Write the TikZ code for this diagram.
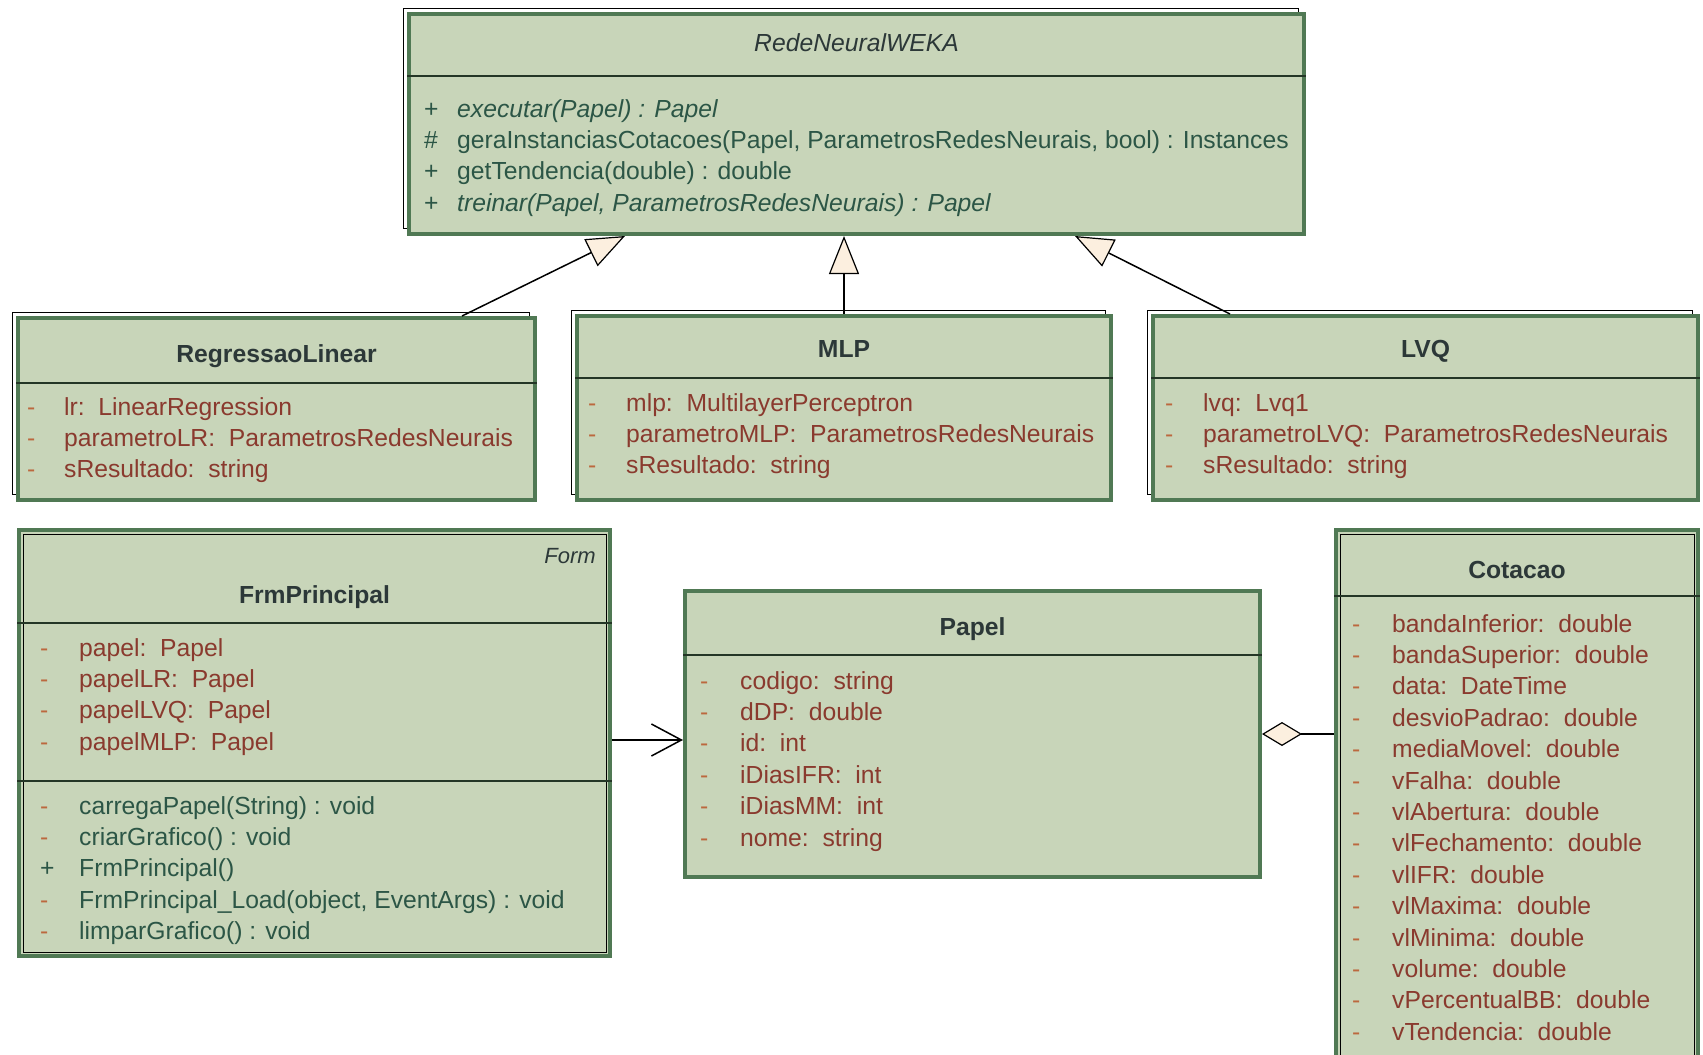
\documentclass[tikz,border=0pt]{standalone}
\usepackage{fontspec}
\setmainfont{Liberation Sans}
\usetikzlibrary{arrows.meta}
\definecolor{umlfill}{RGB}{200, 213, 185}
\definecolor{umlborder}{RGB}{80, 121, 84}
\definecolor{tipfill}{RGB}{252, 239, 223}
\definecolor{nametext}{RGB}{44, 56, 56}
\definecolor{attrtext}{RGB}{138, 58, 46}
\definecolor{opertext}{RGB}{44, 86, 70}
\definecolor{marktext}{RGB}{188, 104, 62}
\newcommand{\vpriv}{\textcolor{marktext}{-}}
\newcommand{\vpubl}{\textcolor{opertext}{+}}
\newcommand{\vprot}{\textcolor{opertext}{\#}}

\begin{document}
\begin{tikzpicture}[x=1pt, y=-1pt,
    umlclass/.style={draw=umlborder, fill=umlfill, line width=4pt, anchor=north west, inner sep=0pt},
    frameline/.style={draw=black, line width=1pt},
    divider/.style={draw=umlborder!45!black, line width=2pt},
    classname/.style={anchor=base, inner sep=0pt, text=nametext, font=\bfseries\fontsize{24.7}{30}\selectfont},
    attrrow/.style={anchor=base west, inner sep=0pt, text=attrtext, font=\fontsize{24.7}{30}\selectfont},
    operrow/.style={attrrow, text=opertext},
    markrow/.style={attrrow, text=marktext},
    generalize/.style={line width=1.5pt, -{Triangle[length=38pt, width=30pt, fill=tipfill, line width=1.2pt]}},
    navigable/.style={line width=1.5pt, -{Straight Barb[length=30pt, width=32pt, line width=1.5pt]}},
    aggregate/.style={line width=1.5pt, -{Diamond[length=40pt, width=24pt, fill=tipfill, line width=1.2pt]}}]
  \clip (0,0) rectangle (1703,1055);
  \fill[white] (0,0) rectangle (1703,1055);

  % thin black frames behind the upper boxes
  \draw[frameline] (403,8) rectangle (1298,228);
  \draw[frameline] (12,312) rectangle (529,494);
  \draw[frameline] (571,310) rectangle (1105,494);
  \draw[frameline] (1147,310) rectangle (1692,494);

  % class boxes
  \node[umlclass, minimum width=895pt, minimum height=220pt] (rnw) at (407,12) {};
  \node[umlclass, minimum width=517pt, minimum height=182pt] (rl) at (16,316) {};
  \node[umlclass, minimum width=534pt, minimum height=184pt] (mlp) at (575,314) {};
  \node[umlclass, minimum width=545pt, minimum height=184pt] (lvq) at (1151,314) {};
  \node[umlclass, minimum width=591pt, minimum height=426pt] (frm) at (17,528) {};
  \node[umlclass, minimum width=575pt, minimum height=286pt] (papel) at (683,589) {};
  \node[umlclass, minimum width=362pt, minimum height=580pt] (cot) at (1334,528) {};
  \draw[frameline] ([shift={(6pt,-6pt)}]frm.north west) rectangle ([shift={(-6pt,6pt)}]frm.south east);
  \draw[frameline] ([shift={(6pt,-6pt)}]cot.north west) rectangle ([shift={(-6pt,6pt)}]cot.south east);

  % compartments
  \draw[divider] ([yshift=-64pt]rnw.north west) -- ([yshift=-64pt]rnw.north east);
  \draw[divider] ([yshift=-67pt]rl.north west) -- ([yshift=-67pt]rl.north east);
  \draw[divider] ([yshift=-64pt]mlp.north west) -- ([yshift=-64pt]mlp.north east);
  \draw[divider] ([yshift=-64pt]lvq.north west) -- ([yshift=-64pt]lvq.north east);
  \draw[divider] ([yshift=-95pt]frm.north west) -- ([yshift=-95pt]frm.north east);
  \draw[divider] ([yshift=-253pt]frm.north west) -- ([yshift=-253pt]frm.north east);
  \draw[divider] ([yshift=-66pt]papel.north west) -- ([yshift=-66pt]papel.north east);
  \draw[divider] ([yshift=-68pt]cot.north west) -- ([yshift=-68pt]cot.north east);

  % names
  \node[classname, font=\itshape\fontsize{24.7}{30}\selectfont] (rnwname) at ([yshift=-39pt]rnw.north) {RedeNeuralWEKA};
  \node[classname] (rlname) at ([yshift=-46pt]rl.north) {RegressaoLinear};
  \node[classname] (mlpname) at ([yshift=-43pt]mlp.north) {MLP};
  \node[classname] (lvqname) at ([yshift=-43pt]lvq.north) {LVQ};
  \node[classname, font=\itshape\fontsize{22}{26}\selectfont, anchor=base east] (frmstereo) at ([shift={(-16pt,-35pt)}]frm.north east) {Form};
  \node[classname] (frmname) at ([yshift=-75pt]frm.north) {FrmPrincipal};
  \node[classname] (papelname) at ([yshift=-46pt]papel.north) {Papel};
  \node[classname] (cotname) at ([yshift=-50pt]cot.north) {Cotacao};

  % RedeNeuralWEKA
  \foreach \m/\t [count=\i] in {\vpubl/{\textit{executar(Papel) : Papel}},
      \vprot/{geraInstanciasCotacoes(Papel, ParametrosRedesNeurais, bool) : Instances},
      \vpubl/{getTendencia(double) : double},
      \vpubl/{\textit{treinar(Papel, ParametrosRedesNeurais) : Papel}}} {
    \node[markrow] at (424, {85.6+31.4*\i}) {\m};
    \node[operrow] at (457, {85.6+31.4*\i}) {\t};
  }
  % RegressaoLinear
  \foreach \t [count=\i] in {lr:~~LinearRegression, parametroLR:~~ParametrosRedesNeurais, sResultado:~~string} {
    \node[markrow] at (27, {383.6+31.4*\i}) {-};
    \node[attrrow] at (64, {383.6+31.4*\i}) {\t};
  }
  % MLP
  \foreach \t [count=\i] in {mlp:~~MultilayerPerceptron, parametroMLP:~~ParametrosRedesNeurais, sResultado:~~string} {
    \node[markrow] at (588, {379.6+31.4*\i}) {-};
    \node[attrrow] at (626, {379.6+31.4*\i}) {\t};
  }
  % LVQ
  \foreach \t [count=\i] in {lvq:~~Lvq1, parametroLVQ:~~ParametrosRedesNeurais, sResultado:~~string} {
    \node[markrow] at (1165, {379.6+31.4*\i}) {-};
    \node[attrrow] at (1203, {379.6+31.4*\i}) {\t};
  }
  % FrmPrincipal
  \foreach \t [count=\i] in {papel:~~Papel, papelLR:~~Papel, papelLVQ:~~Papel, papelMLP:~~Papel} {
    \node[markrow] at (40, {624.6+31.4*\i}) {-};
    \node[attrrow] at (79, {624.6+31.4*\i}) {\t};
  }
  \foreach \m/\t [count=\i] in {\vpriv/{carregaPapel(String) : void}, \vpriv/{criarGrafico() : void},
      \vpubl/{FrmPrincipal()}, \vpriv/{FrmPrincipal\_Load(object, EventArgs) : void},
      \vpriv/{limparGrafico() : void}} {
    \node[markrow] at (40, {782.6+31.4*\i}) {\m};
    \node[operrow] at (79, {782.6+31.4*\i}) {\t};
  }
  % Papel
  \foreach \t [count=\i] in {codigo:~~string, dDP:~~double, id:~~int, iDiasIFR:~~int, iDiasMM:~~int, nome:~~string} {
    \node[markrow] at (700, {657.6+31.4*\i}) {-};
    \node[attrrow] at (740, {657.6+31.4*\i}) {\t};
  }
  % Cotacao
  \foreach \t [count=\i] in {bandaInferior:~~double, bandaSuperior:~~double, data:~~DateTime,
      desvioPadrao:~~double, mediaMovel:~~double, vFalha:~~double, vlAbertura:~~double,
      vlFechamento:~~double, vlIFR:~~double, vlMaxima:~~double, vlMinima:~~double,
      volume:~~double, vPercentualBB:~~double, vTendencia:~~double} {
    \node[markrow] at (1352, {600.6+31.4*\i}) {-};
    \node[attrrow] at (1392, {600.6+31.4*\i}) {\t};
  }

  % relations
  \draw[generalize] ([xshift=446pt]rl.north west) -- ([xshift=218pt]rnw.south west);
  \draw[generalize] (mlp.north) -- (mlp.north |- rnw.south);
  \draw[generalize] ([xshift=79pt]lvq.north west) -- ([xshift=668pt]rnw.south west);
  \draw[navigable] ([yshift=3pt]frm.east) -- ([yshift=3pt]frm.east -| papel.west);
  \draw[aggregate] (papel.east -| cot.west) -- (papel.east);
\end{tikzpicture}
\end{document}
